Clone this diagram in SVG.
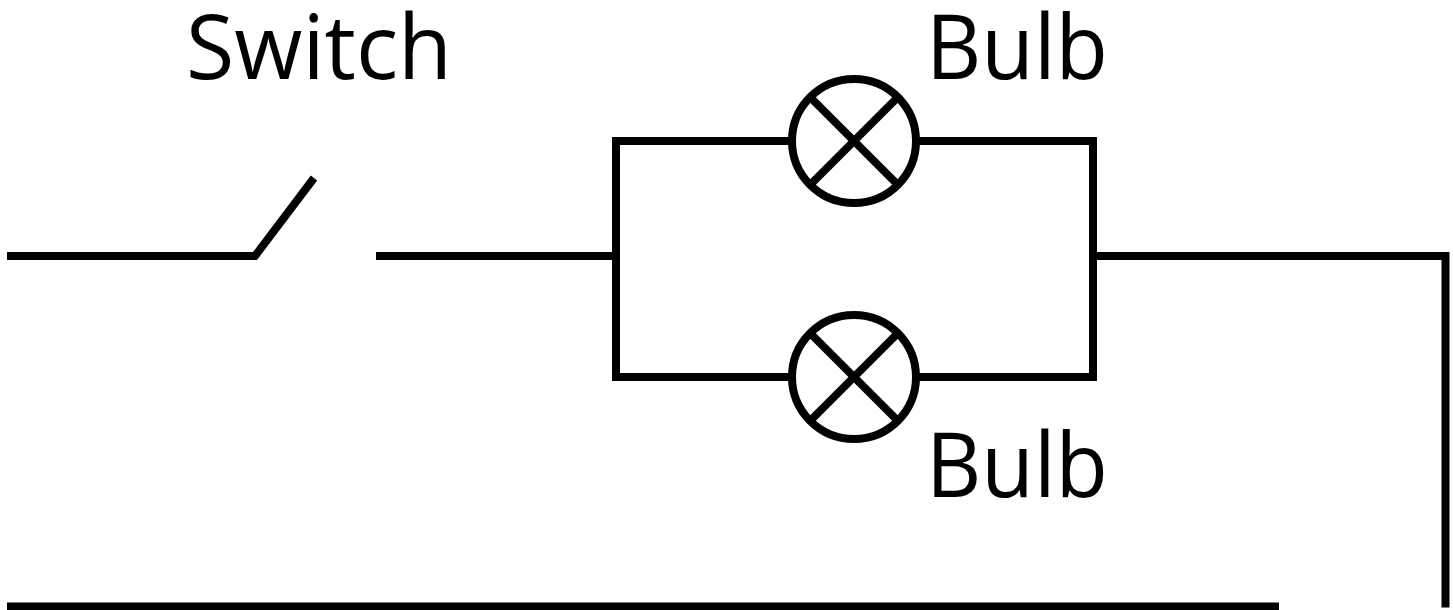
<svg xmlns="http://www.w3.org/2000/svg" width="1453" height="610" viewBox="0 0 1453 610">
<style>
.w{fill:none;stroke:#000;stroke-width:8}
.t{font-family:"Open Sans","Noto Sans",sans-serif;font-size:90px;fill:#000}
</style>
<rect width="1453" height="610" fill="#fff"/>
<g id="connectors">
<path class="w" d="M7 256H255L314 178"/>
<path class="w" d="M376 256H616"/>
<path class="w" d="M790 141H616V377H790"/>
<path class="w" d="M917 141H1093V377H917"/>
<path class="w" d="M1093 256H1445.500V607.500"/>
<path class="w" d="M7 606.500H1279"/>
</g>
<g id="bulb1"><circle class="w" cx="854" cy="141" r="62"/><path class="w" d="M811.500 98.500L896.500 183.500M896.500 98.500L811.500 183.500"/></g>
<g id="bulb2"><circle class="w" cx="854" cy="377" r="62"/><path class="w" d="M811.500 334.500L896.500 419.500M896.500 334.500L811.500 419.500"/></g>
<g id="labels">
<text class="t" x="186" y="79" textLength="266" lengthAdjust="spacingAndGlyphs">Switch</text>
<text class="t" x="926" y="79" textLength="182" lengthAdjust="spacingAndGlyphs">Bulb</text>
<text class="t" x="926" y="497" textLength="182" lengthAdjust="spacingAndGlyphs">Bulb</text>
</g>
</svg>
